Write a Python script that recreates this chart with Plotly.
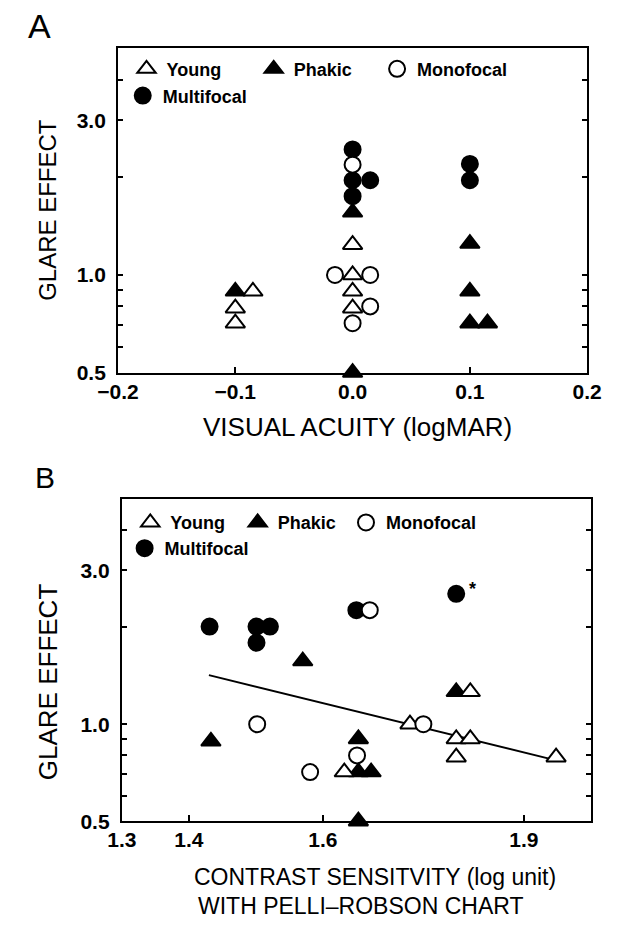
import math
import plotly.graph_objects as go

W, H = 621, 930

# ---------------- data ----------------
# Panel A: visual acuity (logMAR) vs glare effect
young_a_x = [-0.1, -0.085, -0.1, 0.0, 0.0, 0.0, 0.0]
young_a_y = [0.79, 0.89, 0.71, 1.24, 1.0, 0.89, 0.79]
phakic_a_x = [-0.1, 0.0, 0.0, 0.1, 0.1, 0.1, 0.115]
phakic_a_y = [0.89, 1.56, 0.5, 1.25, 0.89, 0.71, 0.71]
mono_a_x = [0.0, -0.015, 0.015, 0.015, 0.0]
mono_a_y = [2.19, 1.0, 1.0, 0.80, 0.71]
multi_a_x = [0.0, 0.0, 0.015, 0.0, 0.1, 0.1]
multi_a_y = [2.44, 1.96, 1.96, 1.75, 2.20, 1.96]

# Panel B: contrast sensitivity vs glare effect
young_b_x = [1.632, 1.730, 1.799, 1.820, 1.799, 1.820, 1.948]
young_b_y = [0.71, 1.0, 0.90, 0.90, 0.79, 1.26, 0.79]
phakic_b_x = [1.433, 1.570, 1.653, 1.653, 1.672, 1.653, 1.799]
phakic_b_y = [0.885, 1.57, 0.90, 0.71, 0.71, 0.5, 1.26]
mono_b_x = [1.502, 1.581, 1.651, 1.670, 1.750]
mono_b_y = [1.0, 0.71, 0.80, 2.26, 1.0]
multi_b_x = [1.431, 1.501, 1.521, 1.501, 1.650, 1.799]
multi_b_y = [2.01, 2.01, 2.01, 1.79, 2.26, 2.54]
fit_b_x = [1.43, 1.945]
fit_b_y = [1.42, 0.775]
star_b = (1.823, 2.62)

y_tickvals = [0.5, 0.6, 0.7, 0.8, 0.9, 1.0, 2.0, 3.0, 4.0, 5.0]
y_ticktext = ["0.5", "", "", "", "", "1.0", "", "3.0", "", ""]
xa_tickvals = [-0.2, -0.1, 0.0, 0.1, 0.2]
xa_ticktext = ["\u22120.2", "\u22120.1", "0.0", "0.1", "0.2"]
xb_tickvals = [1.3, 1.4, 1.6, 1.9]
xb_ticktext = ["1.3", "1.4", "1.6", "1.9"]

# ---------------- helpers ----------------
def fx(p):
    return p / W

def fy(p):
    return 1 - p / H

SANS = "Liberation Sans, Arial, sans-serif"

styles = {
    "Young": dict(symbol="triangle-up", color="white", size=17),
    "Phakic": dict(symbol="triangle-up", color="black", size=17),
    "Monofocal": dict(symbol="circle", color="white", size=16),
    "Multifocal": dict(symbol="circle", color="black", size=16),
}

fig = go.Figure()

def add_series(name, xs, ys, xaxis, yaxis, legend):
    st = styles[name]
    fig.add_trace(go.Scatter(
        x=xs, y=ys, mode="markers", name=name,
        xaxis=xaxis, yaxis=yaxis, legend=legend,
        cliponaxis=False,
        marker=dict(symbol=st["symbol"], color=st["color"], size=st["size"],
                    line=dict(color="black", width=2)),
    ))

# panel A (order chosen so open symbols sit on top)
add_series("Multifocal", multi_a_x, multi_a_y, "x", "y", "legend4")
add_series("Phakic", phakic_a_x, phakic_a_y, "x", "y", "legend2")
add_series("Young", young_a_x, young_a_y, "x", "y", "legend")
add_series("Monofocal", mono_a_x, mono_a_y, "x", "y", "legend3")

# panel B
fig.add_trace(go.Scatter(x=fit_b_x, y=fit_b_y, mode="lines", xaxis="x2", yaxis="y2",
                         line=dict(color="black", width=2), showlegend=False))
add_series("Multifocal", multi_b_x, multi_b_y, "x2", "y2", "legend8")
add_series("Phakic", phakic_b_x, phakic_b_y, "x2", "y2", "legend6")
add_series("Young", young_b_x, young_b_y, "x2", "y2", "legend5")
add_series("Monofocal", mono_b_x, mono_b_y, "x2", "y2", "legend7")

# ---------------- axes ----------------
ylog = [math.log10(0.5), math.log10(5.0)]
common_y = dict(type="log", range=ylog, tickvals=y_tickvals, ticktext=y_ticktext,
                ticks="inside", ticklen=5, tickwidth=1.5, tickcolor="black",
                showline=True, linewidth=2, linecolor="black", mirror="ticks",
                showgrid=False, zeroline=False, ticklabelstandoff=6,
                tickfont=dict(family=SANS, size=21, color="black", weight="bold"))
common_x = dict(ticks="inside", ticklen=6, tickwidth=1.5, tickcolor="black",
                showline=True, linewidth=2, linecolor="black", mirror=True,
                showgrid=False, zeroline=False, ticklabelstandoff=-1,
                tickfont=dict(family=SANS, size=21, color="black", weight="bold"))

fig.update_layout(
    xaxis=dict(domain=[fx(103), fx(601)], range=[-0.2, 0.2], anchor="y",
               tickvals=xa_tickvals, ticktext=xa_ticktext, **common_x),
    yaxis=dict(domain=[fy(377), fy(49)], anchor="x", **common_y),
    xaxis2=dict(domain=[fx(107), fx(605)], range=[1.3, 2.0], anchor="y2",
                tickvals=xb_tickvals, ticktext=xb_ticktext, **common_x),
    yaxis2=dict(domain=[fy(831), fy(505)], anchor="x2", **common_y),
)

# ---------------- legends (one per entry, positioned like the original) ----------------
def leg(x_left, y_mid):
    return dict(x=fx(x_left), y=fy(y_mid), xanchor="left", yanchor="middle",
                orientation="h", bgcolor="rgba(0,0,0,0)", borderwidth=0,
                itemsizing="trace", itemwidth=30,
                font=dict(family=SANS, size=18, color="black", weight="bold"))

fig.update_layout(
    legend=leg(112, 70), legend2=leg(247, 70), legend3=leg(378, 70), legend4=leg(108, 97),
    legend5=leg(116, 529), legend6=leg(230, 529), legend7=leg(345, 529), legend8=leg(110, 555),
)

# ---------------- texts ----------------
ann = []
def text(t, x, y, size, angle=0, xanchor="center"):
    ann.append(dict(text=t, x=fx(x), y=fy(y), xref="paper", yref="paper",
                    showarrow=False, textangle=angle, xanchor=xanchor, yanchor="middle",
                    font=dict(family=SANS, size=size, color="black")))

text("A", 20, 26, 34)
text("B", 26, 483, 30)
text("GLARE EFFECT", 28, 212, 24, -90)
text("VISUAL ACUITY (logMAR)", 357, 432, 26)
text("GLARE EFFECT", 28, 690, 26, -90)
text("CONTRAST SENSITVITY (log unit)", 181, 888, 23, xanchor="left")
text("WITH PELLI\u2013ROBSON CHART", 186, 917, 23, xanchor="left")
fig.update_layout(annotations=ann)

fig.add_annotation(text="*", x=star_b[0], y=math.log10(star_b[1]), xref="x2", yref="y2",
                   showarrow=False, font=dict(family=SANS, size=18, color="black", weight="bold"))

fig.update_layout(width=W, height=H, margin=dict(l=0, r=0, t=0, b=0),
                  paper_bgcolor="white", plot_bgcolor="white")

fig.write_html("out.html", config={"displayModeBar": False},
               post_script="document.body.style.margin='0';")
